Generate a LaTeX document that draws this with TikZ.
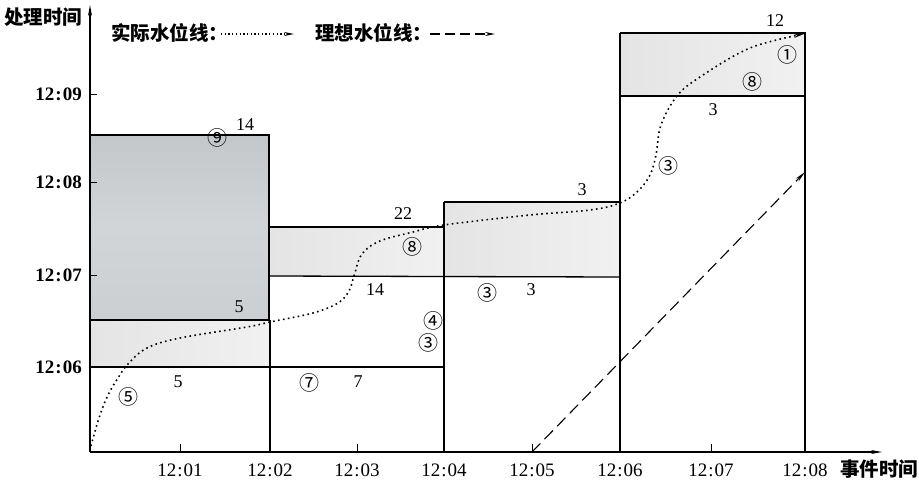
\documentclass[tikz,border=0pt]{standalone}
\usepackage{fontspec}
\setmainfont{Liberation Serif}
\newfontfamily\cjk{Noto Sans CJK SC}
\usetikzlibrary{arrows.meta}
\newcommand{\tm}[2]{#1\kern1pt:\kern1pt#2}
\begin{document}
\begin{tikzpicture}[x=1pt,y=-1pt,
  boxline/.style={line width=1.3pt,draw=black},
  axisline/.style={line width=1.1pt,-{Stealth[length=11pt,width=4pt]}},
  tickline/.style={line width=0.9pt},
  darkfill/.style={top color={rgb,255:red,196;green,199;blue,202},bottom color={rgb,255:red,204;green,207;blue,209},middle color={rgb,255:red,210;green,213;blue,215}},
  lightfill/.style={left color={rgb,255:red,228;green,228;blue,228},right color={rgb,255:red,241;green,241;blue,241}},
  num/.style={font=\fontsize{18}{18}\selectfont,inner sep=0pt},
  ylab/.style={font=\fontsize{19}{19}\selectfont\bfseries,anchor=east,inner sep=0pt},
  xlab/.style={font=\fontsize{19}{19}\selectfont,inner sep=0pt},
  circ/.style={font=\cjk\fontsize{20}{20}\selectfont,inner sep=0pt},
  cjklab/.style={font=\cjk\bfseries\fontsize{19.5}{19.5}\selectfont,inner sep=0pt},
  actual/.style={line width=1.6pt,dash pattern=on 1.6pt off 3.4pt,-{Stealth[length=10pt,width=4pt]}},
  ideal/.style={line width=1.1pt,dash pattern=on 12pt off 6pt,-{Stealth[length=11pt,width=4pt]}}
]
\useasboundingbox (0,0) rectangle (919,493);
\fill[white] (0,0) rectangle (919,493);

% fills
\shade[darkfill] (90,135) rectangle (269,320);
\shade[lightfill] (90,320) rectangle (270,367);
\shade[lightfill] (270,227) rectangle (444,276);
\shade[lightfill] (444,202) rectangle (620,277);
\shade[lightfill] (620,33) rectangle (805,96);

% boxes
\draw[boxline] (90,135) -- (269,135) -- (269,320);
\draw[boxline] (90,320) -- (270,320);
\draw[boxline] (90,367) -- (444,367);
\draw[boxline] (270,320) -- (270,452);
\draw[boxline] (269,227) -- (444,227);
\draw[boxline] (270,276) -- (620,277);
\draw[boxline] (444,202) -- (620,202);
\draw[boxline] (444,202) -- (444,452);
\draw[boxline] (620,33) -- (805,33) -- (805,452);
\draw[boxline] (620,96) -- (805,96);
\draw[boxline] (620,33) -- (620,452);

% axes
\coordinate (O) at (90,452);
\coordinate (Ytop) at (90,5);
\coordinate (Xend) at (882,452);
\draw[axisline] (O) -- (Ytop);
\draw[axisline] (O) -- (Xend);

% y ticks and labels
\foreach \yy/\ha/\hb/\nm in {94/12/09/y9,182/12/08/y8,275/12/07/y7,367/12/06/y6}{
  \draw[tickline] (90,\yy) -- (97,\yy);
  \node[ylab] (\nm) at (82,\yy) {\tm{\ha}{\hb}};
}
% x ticks
\foreach \xx in {180,357,532,711}{
  \draw[tickline] (\xx,452) -- (\xx,444);
}
\foreach \xx/\hb/\nm in {180/01/x1,270/02/x2,357/03/x3,444/04/x4,532/05/x5,620/06/x6,711/07/x7,805/08/x8}{
  \node[xlab] (\nm) at (\xx,470) {\tm{12}{\hb}};
}

% axis titles
\node[cjklab,anchor=west] (ytitle) at (4,17) {处理时间};
\node[cjklab,anchor=west] (xtitle) at (840,469) {事件时间};

% legend
\node[cjklab,anchor=west] (leg1) at (111,33) {实际水位线：};
\coordinate (l1a) at (221,34);
\coordinate (l1b) at (294,34);
\draw[line width=1.1pt,dash pattern=on 1.3pt off 2.4pt,-{Stealth[length=10pt,width=4pt]}] (l1a) -- (l1b);
\node[cjklab,anchor=west] (leg2) at (315,33) {理想水位线：};
\coordinate (l2a) at (430,34);
\coordinate (l2b) at (495,34);
\draw[line width=1.1pt,dash pattern=on 10pt off 5pt,-{Stealth[length=10pt,width=4pt]}] (l2a) -- (l2b);

% numbers
\node[num] (n14a) at (245,125) {14};
\node[num] (n22) at (403,214) {22};
\node[num] (n14b) at (375,290) {14};
\node[num] (n5a) at (239,307) {5};
\node[num] (n5b) at (178,382) {5};
\node[num] (n7) at (358,382) {7};
\node[num] (n3a) at (582,190) {3};
\node[num] (n3b) at (531,290) {3};
\node[num] (n12) at (775,21) {12};
\node[num] (n3c) at (713,110) {3};

% circled numbers
\node[circ] (c9) at (217,138) {⑨};
\node[circ] (c8a) at (412,247) {⑧};
\node[circ] (c5) at (128,397) {⑤};
\node[circ] (c7) at (309,383) {⑦};
\node[circ] (c4) at (433,321) {④};
\node[circ] (c3a) at (428,343) {③};
\node[circ] (c3b) at (487,293) {③};
\node[circ] (c1) at (787,55) {①};
\node[circ] (c8b) at (752,82) {⑧};
\node[circ] (c3c) at (668,166) {③};

% ideal watermark
\coordinate (i0) at (532,452);
\coordinate (i1) at (805,172);
\draw[ideal] (i0) -- (i1);

% actual watermark
\draw[actual] plot[smooth,tension=0.6] coordinates {
 (91,446) (99,418) (108,395) (118,378) (128,364) (147,348) (180,338) (247,327) (270,322)
 (313,313) (338,303) (349,291) (354,276) (362,254) (380,241) (413,232) (444,225)
 (530,215) (590,210) (620,203) (638,191) (650,175) (656,155) (661,125) (677,96)
 (700,77) (750,48) (804,34)};
\end{tikzpicture}
\end{document}
